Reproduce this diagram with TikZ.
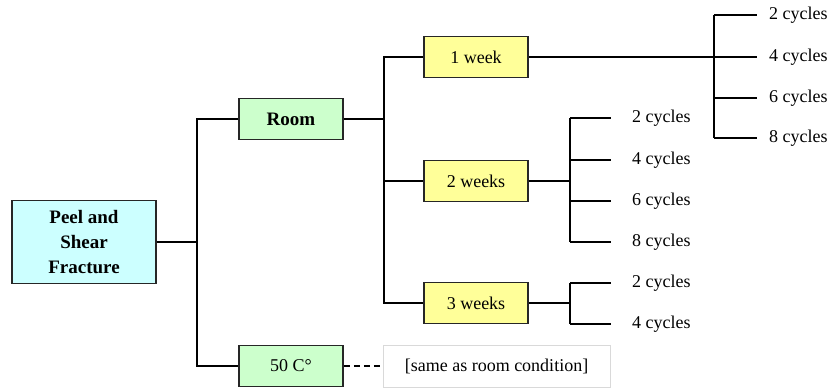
\documentclass[tikz,border=0pt]{standalone}
\usepackage{fontspec}
\setmainfont{Liberation Serif}
\usepackage{xcolor}
\usepackage{tikz}
\usetikzlibrary{positioning,calc}
\definecolor{boxcyan}{HTML}{CCFFFF}
\definecolor{boxgreen}{HTML}{CCFFCC}
\definecolor{boxyellow}{HTML}{FFFF99}
\tikzset{
  box/.style={draw=black!85, line width=1.6pt, align=center, inner sep=2pt,
    minimum width=104, minimum height=41, font=\fontsize{18}{25}\selectfont},
  root/.style={box, fill=boxcyan, minimum width=144, minimum height=83,
    font=\fontsize{19}{25}\selectfont\bfseries},
  cond/.style={box, fill=boxgreen},
  period/.style={box, fill=boxyellow},
  note/.style={draw=black!15, line width=0.8pt, minimum width=227, minimum height=42,
    font=\fontsize{18}{25}\selectfont},
  cyc/.style={anchor=west, inner sep=0pt, font=\fontsize{18}{25}\selectfont},
  tree/.style={line width=1.6pt}
}
\begin{document}
\begin{tikzpicture}[x=1pt, y=-1pt]
    \useasboundingbox (0,0) rectangle (838,388);
    % Boxes
    \node[root] (peel) at (84,242) {Peel and\\Shear\\Fracture};
    \node[cond, font=\fontsize{19}{25}\selectfont\bfseries] (room) at (291,119) {Room};
    \node[cond] (hot) at (291,366) {50 C\textdegree};
    \node[note] (same) at (496.5,366) {[same as room condition]};
    \node[period] (wk1) at (476,57) {1 week};
    \node[period] (wk2) at (476,181) {2 weeks};
    \node[period] (wk3) at (476,303) {3 weeks};
    % Junctions
    \coordinate (j0) at (197,242);
    \coordinate (j1) at (384,119);
    \coordinate (j2) at (714,57);
    \coordinate (j3) at (570,181);
    \coordinate (j4) at (570,303);
    % Tree
    \draw[tree] (peel) -- (j0);
    \draw[tree] (room.west) -| (j0) |- (hot.west);
    \draw[tree, dashed, dash pattern=on 6pt off 4pt] (hot.east) -- (same.west);
    \draw[tree] (room) -- (j1);
    \draw[tree] (wk1.west) -| (j1) |- (wk3.west);
    \draw[tree] (j1) |- (wk2.west);
    % Cycles
    \draw[tree] (wk1) -- (j2);
    \foreach \y/\n [count=\i] in {15/2,57/4,98/6,138/8} {
      \node[cyc] (a\i) at (769,\y) {\n~cycles};
      \draw[tree, shorten >=12pt] (j2 |- a\i) -- (a\i.west);
    }
    \draw[tree] (j2 |- a1) -- (j2 |- a4);
    \draw[tree] (wk2) -- (j3);
    \foreach \y/\n [count=\i] in {118/2,160/4,201/6,242/8} {
      \node[cyc] (b\i) at (632,\y) {\n~cycles};
      \draw[tree, shorten >=21pt] (j3 |- b\i) -- (b\i.west);
    }
    \draw[tree] (j3 |- b1) -- (j3 |- b4);
    \draw[tree] (wk3) -- (j4);
    \foreach \y/\n [count=\i] in {283/2,324/4} {
      \node[cyc] (c\i) at (632,\y) {\n~cycles};
      \draw[tree, shorten >=21pt] (j4 |- c\i) -- (c\i.west);
    }
    \draw[tree] (j4 |- c1) -- (j4 |- c2);
  \end{tikzpicture}
\end{document}
